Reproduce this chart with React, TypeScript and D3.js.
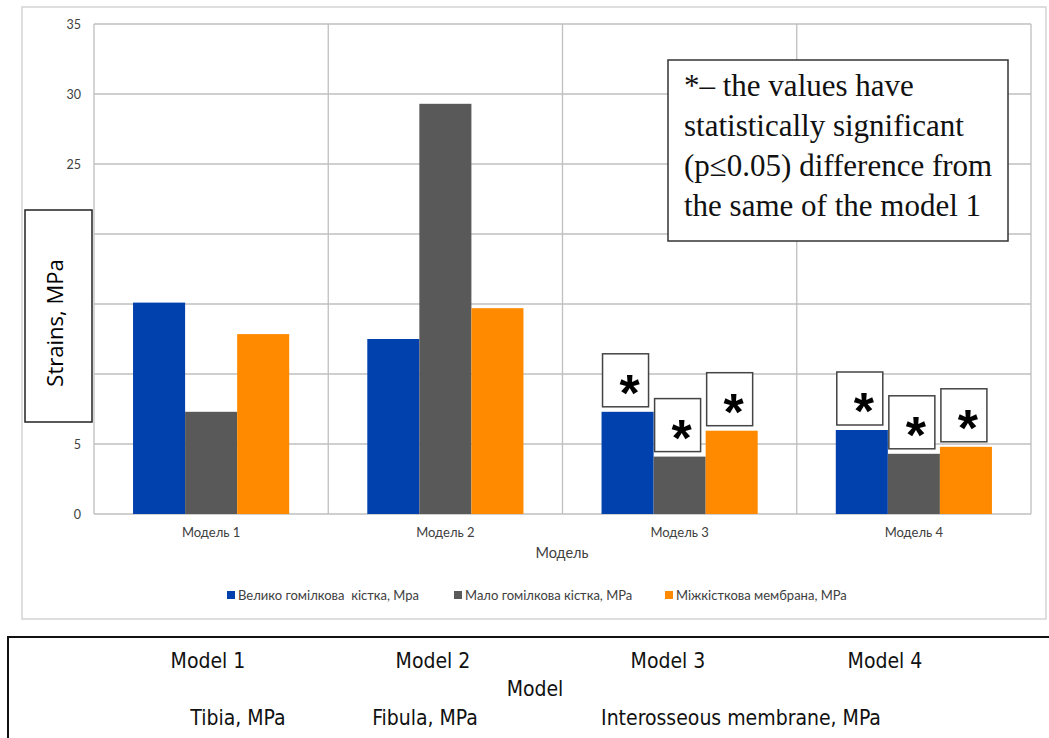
import * as React from "react";
import * as d3 from "d3";

const categories = ["Модель 1", "Модель 2", "Модель 3", "Модель 4"];
const seriesNames = [
  "Велико гомілкова  кістка, Мра",
  "Мало гомілкова кістка, МРа",
  "Міжкісткова мембрана, МРа",
];
const tibia = [15.1, 12.5, 7.3, 6.0];
const fibula = [7.3, 29.3, 4.1, 4.3];
const membrane = [12.85, 14.7, 5.95, 4.8];
// which bars carry a "*" (significant vs model 1)
const tibiaSig = [false, false, true, true];
const fibulaSig = [false, false, true, true];
const membraneSig = [false, false, true, true];
const yTicks = [0, 5, 10, 15, 20, 25, 30, 35];
const englishCats = ["Model 1", "Model 2", "Model 3", "Model 4"];
const englishSeries = ["Tibia, MPa", "Fibula, MPa", "Interosseous membrane, MPa"];
const noteLines = [
  "*– the values have",
  "statistically significant",
  "(p≤0.05) difference from",
  "the same of the model 1",
];

const colors = ["#0041ad", "#595959", "#ff8a00"];
const values = [tibia, fibula, membrane];
const sigs = [tibiaSig, fibulaSig, membraneSig];

const W = 1049;
const H = 738;
const plot = { left: 94, right: 1031, top: 24, bottom: 514 };
const font = "Lato, 'Open Sans', sans-serif";
const narrow = "'Liberation Sans Narrow', 'DejaVu Sans Condensed', 'Roboto', sans-serif";

export default function App() {
  const x0 = d3.scaleBand().domain(categories).range([plot.left, plot.right]);
  const x1 = d3
    .scaleBand()
    .domain(seriesNames)
    .range([0, x0.bandwidth()])
    .paddingInner(0)
    .paddingOuter(0.75);
  const y = d3.scaleLinear().domain([0, 35]).range([plot.bottom, plot.top]);

  const boundaries = categories.map((c) => x0(c)!).concat([plot.right]);

  return (
    <svg
      width={W}
      height={H}
      style={{ position: "absolute", left: 0, top: 0, background: "#fff" }}
    >
      {/* outer chart frame */}
      <rect x={22} y={7} width={1024} height={612} fill="#fff" stroke="#d4d4d4" strokeWidth={1.5} />

      {/* grid */}
      {yTicks.map((t) => (
        <line key={t} x1={plot.left} x2={plot.right} y1={y(t)} y2={y(t)} stroke="#bfbfbf" strokeWidth={1.3} />
      ))}
      {boundaries.map((b, i) => (
        <line key={i} x1={b} x2={b} y1={plot.top} y2={plot.bottom} stroke="#bfbfbf" strokeWidth={1.3} />
      ))}

      {/* y tick labels */}
      {yTicks.map((t) => (
        <text key={t} x={81} y={y(t) + 4.5} textAnchor="end" fontFamily={font} fontSize={12.5} fill="#404040">
          {t}
        </text>
      ))}

      {/* bars */}
      {categories.map((c, ci) =>
        seriesNames.map((s, si) => (
          <rect
            key={c + s}
            x={x0(c)! + x1(s)!}
            y={y(values[si][ci])}
            width={x1.bandwidth()}
            height={y(0) - y(values[si][ci])}
            fill={colors[si]}
          />
        ))
      )}

      {/* significance boxes */}
      {categories.map((c, ci) =>
        seriesNames.map((s, si) =>
          sigs[si][ci] ? (
            <g key={"s" + c + s} transform={`translate(${x0(c)! + x1(s)! + 1},${y(values[si][ci]) - 58})`}>
              <rect width={46} height={53} fill="#fff" stroke="#444" strokeWidth={1.5} />
              <text x={27} y={57} textAnchor="middle" fontFamily="'Liberation Sans', Arial, sans-serif" fontWeight="bold" fontSize={52} fill="#000">
                *
              </text>
            </g>
          ) : null
        )
      )}

      {/* x labels */}
      {categories.map((c) => (
        <text key={c} x={x0(c)! + x0.bandwidth() / 2} y={537} textAnchor="middle" fontFamily={font} fontSize={13} fill="#404040">
          {c}
        </text>
      ))}
      <text x={562} y={558} textAnchor="middle" fontFamily={font} fontSize={14.5} fill="#404040">
        Модель
      </text>

      {/* legend */}
      {seriesNames.map((s, i) => {
        const lx = [227, 454, 665][i];
        return (
          <g key={s}>
            <rect x={lx} y={591} width={8} height={8} fill={colors[i]} />
            <text x={lx + 11} y={600} fontFamily={font} fontSize={13} fill="#404040" style={{ whiteSpace: "pre" }}>
              {s}
            </text>
          </g>
        );
      })}

      {/* y title box */}
      <rect x={25} y={210} width={67} height={212} fill="#fff" stroke="#222" strokeWidth={1.5} />
      <text
        transform="translate(63,323) rotate(-90)"
        textAnchor="middle"
        fontFamily="'Open Sans', sans-serif"
        fontSize={22}
        fill="#000"
      >
        Strains, MPa
      </text>

      {/* note box */}
      <rect x={668} y={60} width={340} height={181} fill="#fff" stroke="#333" strokeWidth={1.5} />
      {noteLines.map((l, i) => (
        <text key={i} x={684} y={96 + i * 40} fontFamily="'Liberation Serif', 'Times New Roman', serif" fontSize={31} fill="#111">
          {l}
        </text>
      ))}

      {/* english caption box */}
      <rect x={8} y={637} width={1060} height={120} fill="#fff" stroke="#111" strokeWidth={2} />
      {englishCats.map((c, i) => (
        <text key={c} x={[208, 433, 668, 885][i]} y={668} textAnchor="middle" fontFamily={narrow} fontSize={21} fill="#111">
          {c}
        </text>
      ))}
      <text x={535} y={696} textAnchor="middle" fontFamily={narrow} fontSize={21} fill="#111">
        Model
      </text>
      {englishSeries.map((s, i) => (
        <text key={s} x={[238, 425, 741][i]} y={725} textAnchor="middle" fontFamily={narrow} fontSize={21} fill="#111">
          {s}
        </text>
      ))}
    </svg>
  );
}
